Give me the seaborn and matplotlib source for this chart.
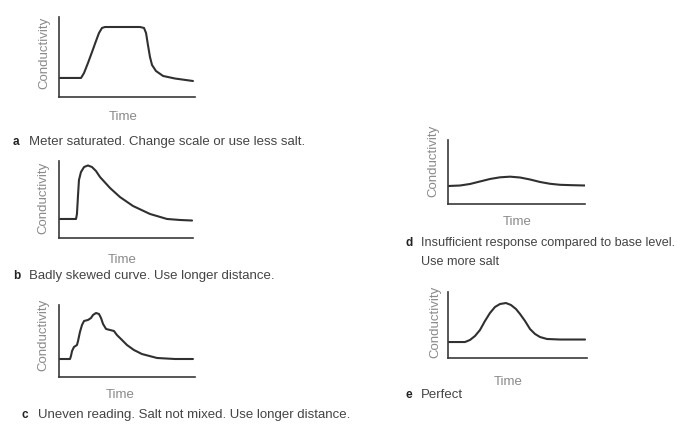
import matplotlib.pyplot as plt
import seaborn as sns

# curve shapes, on a 0-10 scale in each small panel
time_a = [0, 1.62, 1.84, 2.13, 2.43, 2.72, 2.94, 3.16, 3.38, 4.49, 5.96, 6.25, 6.40, 6.54, 6.69, 6.84, 7.13, 7.65, 8.53, 9.85]
cond_a = [2.38, 2.38, 3.0, 4.25, 5.63, 7.0, 8.0, 8.63, 8.75, 8.75, 8.75, 8.63, 8.0, 6.5, 5.0, 4.0, 3.25, 2.63, 2.31, 2.0]

time_b = [0, 1.27, 1.34, 1.42, 1.49, 1.64, 1.87, 2.16, 2.46, 2.76, 3.06, 3.81, 4.55, 5.52, 6.79, 8.06, 9.03, 9.93]
cond_b = [2.47, 2.47, 3.12, 5.58, 7.53, 8.57, 9.22, 9.42, 9.22, 8.70, 7.92, 6.49, 5.32, 4.16, 3.12, 2.47, 2.34, 2.27]

time_c = [0, 0.81, 0.88, 0.96, 1.10, 1.32, 1.40, 1.54, 1.69, 1.84, 2.13, 2.35, 2.50, 2.72, 2.94, 3.09, 3.24,
          3.46, 3.75, 4.04, 4.26, 4.63, 5.0, 5.51, 6.10, 7.21, 8.53, 9.85]
cond_c = [2.5, 2.5, 2.92, 3.61, 4.17, 4.44, 5.0, 6.25, 7.22, 7.78, 7.92, 8.19, 8.61, 8.89, 8.75, 8.19, 7.36,
          6.67, 6.53, 6.39, 5.83, 5.14, 4.44, 3.75, 3.19, 2.64, 2.5, 2.5]

time_d = [0, 0.88, 1.61, 2.34, 3.07, 3.80, 4.53, 5.26, 5.99, 6.72, 7.45, 8.18, 9.05, 10.0]
cond_d = [2.81, 2.89, 3.13, 3.52, 3.91, 4.17, 4.27, 4.14, 3.83, 3.44, 3.16, 3.0, 2.94, 2.89]

time_e = [0, 1.22, 1.58, 1.94, 2.30, 2.66, 3.02, 3.38, 3.74, 4.17, 4.53, 4.89, 5.18, 5.54, 5.90, 6.26, 6.62, 7.12, 8.06, 9.86]
cond_e = [2.42, 2.42, 2.73, 3.33, 4.24, 5.61, 6.82, 7.73, 8.18, 8.33, 8.03, 7.42, 6.67, 5.61, 4.39, 3.64, 3.18, 2.88, 2.80, 2.80]

letters = ["a", "b", "c", "d", "e"]
captions = [["Meter saturated. Change scale or use less salt."],
            ["Badly skewed curve. Use longer distance."],
            ["Uneven reading. Salt not mixed. Use longer distance."],
            ["Insufficient response compared to base level.", "Use more salt"],
            ["Perfect"]]
caption_size = [9.5, 9.5, 9.5, 9.1, 9.5]

W, H = 685, 424

sns.set_style("white")
plt.rcParams['font.family'] = ['Liberation Sans', 'DejaVu Sans']

fig = plt.figure(figsize=(W / 100, H / 100), dpi=100)


def px_axes(x0, y0, x1, y1):
    return fig.add_axes([x0 / W, 1 - y1 / H, (x1 - x0) / W, (y1 - y0) / H])


def ptext(x, y, s, **kw):
    fig.text(x / W, 1 - y / H, s, **kw)


# box (left, top, right, bottom), conductivity label, time label, caption letter (pixels)
panels = [
    (time_a, cond_a, (59, 17, 195, 97), (44, 53), (123, 117), (13, 142)),
    (time_b, cond_b, (59, 161, 193, 238), (43, 198), (122, 260), (13, 276)),
    (time_c, cond_c, (59, 305, 195, 377), (43, 335), (120, 395), (22, 415)),
    (time_d, cond_d, (448, 140, 585, 204), (433, 161), (517, 222), (405, 243)),
    (time_e, cond_e, (448, 292, 587, 358), (435, 322), (508, 382), (405, 395)),
]

for i, (t, c, box, clab, tlab, cap) in enumerate(panels):
    ax = px_axes(*box)
    sns.lineplot(x=t, y=c, ax=ax, color="#303030", linewidth=1.5)
    ax.set_xlim(0, 10)
    ax.set_ylim(0, 10)
    ax.set_xticks([])
    ax.set_yticks([])
    sns.despine(ax=ax)
    for s in ["left", "bottom"]:
        ax.spines[s].set_color("#3a3a3a")
        ax.spines[s].set_linewidth(1.2)
    ax.patch.set_alpha(0)

    ptext(clab[0], clab[1], "Conductivity", rotation=90, ha="center", va="center",
          fontsize=9.5, color="#8a8a8a")
    ptext(tlab[0], tlab[1], "Time", ha="center", va="center", fontsize=9.5, color="#8a8a8a")
    ptext(cap[0], cap[1], letters[i], ha="left", va="center", fontsize=8.5,
          color="#222222", fontweight="bold")
    for k, line in enumerate(captions[i]):
        ptext(cap[0] + 16, cap[1] + 19 * k, line, ha="left", va="center",
              fontsize=caption_size[i], color="#444444")

fig.savefig("out.png", dpi=100)
